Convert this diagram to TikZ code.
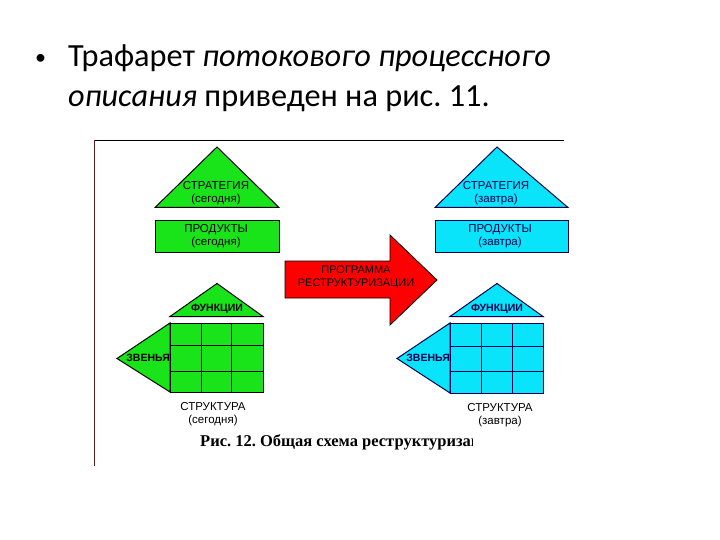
\documentclass[tikz,border=0pt]{standalone}
\usepackage{fontspec}
\setmainfont{Carlito}
\newfontfamily\schemefont{Liberation Sans}
\newfontfamily\capfont{Liberation Serif}
\definecolor{todaygreen}{RGB}{25,228,25}
\definecolor{nextcyan}{RGB}{10,228,250}
\definecolor{navyline}{RGB}{0,0,80}
\definecolor{framered}{RGB}{90,30,30}
\frenchspacing

\begin{document}
\begin{tikzpicture}[x=1pt,y=-1pt,
    lbl/.style={font=\schemefont\fontsize{11.5}{12.5}\selectfont,inner sep=0pt,align=center},
    head/.style={font=\schemefont\bfseries\fontsize{10.5}{12}\selectfont,inner sep=0pt},
    today/.style={fill=todaygreen,draw=black,line width=1pt},
    nextday/.style={fill=nextcyan,draw=navyline,line width=1pt}]
    \useasboundingbox (0,0) rectangle (720,540);
    % slide text
    \node[anchor=base west,font=\fontsize{22}{30}\selectfont,inner sep=0pt] (dot) at (35,65) {•};
    \node[anchor=base west,font=\fontsize{32.3}{38}\selectfont,inner sep=0pt] (line1) at (68,67) {Трафарет \textit{потокового процессного}};
    \node[anchor=base west,font=\fontsize{32.3}{38}\selectfont,inner sep=0pt] (line2) at (68,107) {\textit{описания} приведен на рис. 11.};
    % frame of the picture
    \draw[black,thin] (94,140) -- (564,140);
    \draw[framered,thin] (94,140) -- (94,466);
    % today
    \draw[today] (155,207.5) -- (217,147) -- (279,207.5) -- cycle;
    \node[lbl] (strat1) at (216,193) {СТРАТЕГИЯ\\(сегодня)};
    \draw[today] (155,221) rectangle (279,252);
    \node[lbl] (prod1) at (216,236) {ПРОДУКТЫ\\(сегодня)};
    \draw[today] (170,316.5) -- (217,283.5) -- (263,316.5) -- cycle;
    \draw[today] (170,323) -- (117,358.5) -- (170,392) -- cycle;
    \draw[today] (170,323) rectangle (263,392);
    \foreach \x in {201.5,231.5} \draw[line width=1pt] (\x,323) -- (\x,392);
    \foreach \y in {345,371.5} \draw[line width=1pt] (170,\y) -- (263,\y);
    \node[head] (func1) at (217,309) {ФУНКЦИИ};
    \node[head,anchor=east] (link1) at (170,358) {ЗВЕНЬЯ};
    \node[lbl] (struct1) at (213,414) {СТРУКТУРА\\(сегодня)};
    % program
    \draw[fill=red,draw=black,line width=0.8pt] (285,261) -- (390,261) -- (390,235) -- (437,280)
        -- (390,325) -- (390,298) -- (285,298) -- cycle;
    \node[lbl,font=\schemefont\fontsize{11}{13}\selectfont] (prog) at (356,277) {ПРОГРАММА\\РЕСТРУКТУРИЗАЦИИ};
    % tomorrow
    \draw[nextday] (435,207.5) -- (497,147) -- (568,207.5) -- cycle;
    \node[lbl,text=navyline] (strat2) at (496,193) {СТРАТЕГИЯ\\(завтра)};
    \draw[nextday] (435,221) rectangle (568,252);
    \node[lbl,text=navyline] (prod2) at (500,236) {ПРОДУКТЫ\\(завтра)};
    \draw[nextday] (450,316.5) -- (497,283.5) -- (543,316.5) -- cycle;
    \draw[nextday] (450,323) -- (397,358.5) -- (450,393) -- cycle;
    \draw[nextday] (450,323) rectangle (543,393);
    \foreach \x in {481,512} \draw[navyline,line width=1pt] (\x,323) -- (\x,393);
    \foreach \y in {346,371.5} \draw[navyline,line width=1pt] (450,\y) -- (543,\y);
    \node[head,text=navyline] (func2) at (497,309) {ФУНКЦИИ};
    \node[head,anchor=east,text=navyline] (link2) at (450,358) {ЗВЕНЬЯ};
    \node[lbl] (struct2) at (500,415) {СТРУКТУРА\\(завтра)};
    % caption, cut at the edge of the picture
    \begin{scope}
        \clip (94,425) rectangle (472,460);
        \node[anchor=base west,inner sep=0pt,font=\capfont\bfseries\fontsize{16.5}{18}\selectfont] (caption) at (200,446) {Рис. 12. Общая схема реструктуризации};
    \end{scope}
\end{tikzpicture}
\end{document}
